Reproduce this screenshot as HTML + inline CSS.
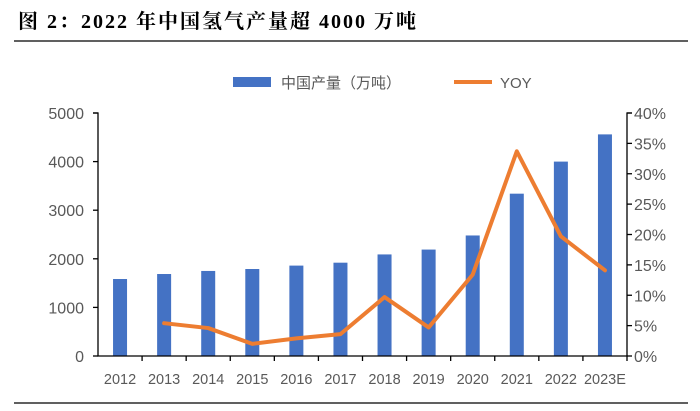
<!DOCTYPE html>
<html><head><meta charset="utf-8"><style>
body{margin:0;background:#fff;width:700px;height:406px;overflow:hidden}
</style></head><body>
<svg width="700" height="406" xmlns="http://www.w3.org/2000/svg">
<text x="18" y="28" font-family="'Liberation Serif','Noto Serif CJK SC',serif" font-weight="bold" font-size="20" letter-spacing="2" fill="#000">图 2：2022 年中国氢气产量超 4000 万吨</text>
<line x1="14" y1="41" x2="688" y2="41" stroke="#000" stroke-width="1.2"/>
<line x1="14" y1="403" x2="688" y2="403" stroke="#000" stroke-width="1.2"/>
<g>
<rect x="233" y="77" width="38" height="10" fill="#4472C4"/>
<text x="281" y="88" font-family="'Liberation Sans','Noto Sans CJK SC',sans-serif" font-size="15" fill="#595959">中国产量（万吨）</text>
<line x1="454" y1="82" x2="492" y2="82" stroke="#ED7D31" stroke-width="4"/>
<text x="500" y="88" font-family="'Liberation Sans',sans-serif" font-size="15" fill="#595959">YOY</text>
</g>
<g id="plot"></g>
</svg>
<script>
const categories=["2012","2013","2014","2015","2016","2017","2018","2019","2020","2021","2022","2023E"];
const production=[1584,1687,1750,1790,1860,1920,2090,2190,2480,3340,4000,4560];
const yoy=[null,5.4,4.6,2.0,2.9,3.6,9.7,4.7,13.4,33.7,19.7,14.1];
const leftTicks=[0,1000,2000,3000,4000,5000];
const rightTicks=[0,5,10,15,20,25,30,35,40];
const X0=98,X1=627,Y0=356,Y1=113;
const NS="http://www.w3.org/2000/svg";
const g=document.getElementById('plot');
const cw=(X1-X0)/categories.length;
const xc=i=>X0+cw*(i+0.5);
const yL=v=>Y0-(v/5000)*(Y0-Y1);
const yR=v=>Y0-(v/40)*(Y0-Y1);
function mk(t,a){const e=document.createElementNS(NS,t);for(const k in a)e.setAttribute(k,a[k]);g.appendChild(e);return e;}
const font="'Liberation Sans',sans-serif";
production.forEach((v,i)=>{
 const r=mk('rect',{x:xc(i)-7,y:yL(v),width:14,height:Y0-yL(v),fill:'#4472C4'});
 
 
});
let ax=mk('path',{d:`M${X0-5},${Y1}H${X0}V${Y0}H${X1}V${Y1}H${X1+5}`,stroke:'#000','stroke-width':1.3,fill:'none'});


leftTicks.forEach(v=>{
 mk('line',{x1:X0-5,x2:X0,y1:yL(v),y2:yL(v),stroke:'#000','stroke-width':1.3});
 const t=mk('text',{x:X0-14,y:yL(v)+6,'text-anchor':'end','font-family':font,'font-size':16,fill:'#595959'});
 t.textContent=v;
 
 
});
rightTicks.forEach(v=>{
 mk('line',{x1:X1,x2:X1+5,y1:yR(v),y2:yR(v),stroke:'#000','stroke-width':1.3});
 const t=mk('text',{x:X1+7,y:yR(v)+6,'font-family':font,'font-size':16,fill:'#595959'});
 t.textContent=v+'%';
 
 
});
categories.forEach((c,i)=>{
 mk('line',{x1:X0+cw*(i+1),x2:X0+cw*(i+1),y1:Y0,y2:Y0+5,stroke:'#000','stroke-width':1.3});
 const t=mk('text',{x:xc(i),y:384,'text-anchor':'middle','font-family':font,'font-size':14.5,fill:'#595959'});
 t.textContent=c;
 
 
});
let d='';yoy.forEach((v,i)=>{if(v==null)return;d+=(d?'L':'M')+xc(i)+','+yR(v);});
const ln=mk('path',{d:d,stroke:'#ED7D31','stroke-width':4,fill:'none','stroke-linejoin':'round','stroke-linecap':'round'});


</script>
</body></html>
